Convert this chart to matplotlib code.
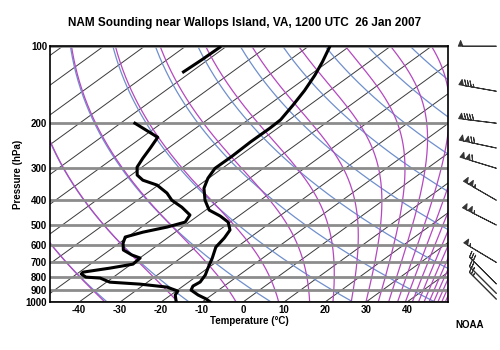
import numpy as np
import matplotlib
matplotlib.use('Agg')
import matplotlib.pyplot as plt
from matplotlib.ticker import FixedLocator, NullLocator

plt.rcParams['font.family'] = ['Liberation Sans', 'DejaVu Sans']

# skew of the isotherms (deg C per decade of pressure)
SKEW = 86.0

# temperature profile (hPa, deg C)
temp_p = [100, 115, 130, 149, 170, 194, 209, 237, 269, 300, 328, 359, 400, 437,
          461, 487, 523, 562, 610, 673, 736, 784, 835, 866, 898, 939, 973, 1000]
temp_t = [-64.8, -61.4, -58.7, -56.1, -54.0, -52.1, -51.9, -52.0, -51.7, -51.8,
          -50.2, -47.8, -43.5, -39.2, -34.5, -30.5, -27.4, -26.1, -25.1, -22.3,
          -20.0, -18.3, -17.2, -17.6, -16.7, -13.3, -10.0, -8.0]

# dewpoint profile, upper piece (above the gap)
dewp_top_p = [101, 113, 126]
dewp_top_t = [-91.3, -91.5, -91.9]

# dewpoint profile, 200 hPa down to the surface
dewp_p = [200, 227, 250, 274, 297, 319, 334, 349, 375, 400, 426, 457, 487, 509,
          533, 557, 588, 626, 655, 673, 711, 737, 764, 777, 799, 806, 836, 851,
          874, 906, 939, 1000]
dewp_t = [-86.5, -76.2, -74.4, -72.8, -71.2, -68.5, -65.4, -60.3, -55.2, -51.6,
          -46.8, -42.2, -41.0, -43.7, -47.9, -50.6, -49.1, -46.7, -42.9, -39.9,
          -39.6, -43.9, -49.1, -48.9, -46.7, -42.9, -39.2, -31.2, -23.6, -19.6,
          -18.9, -16.3]

# wind barbs: pressure, direction (deg), speed (kt)
wind_p = [100, 150, 200, 250, 300, 400, 500, 700, 850, 925, 975]
wind_dir = [270, 280, 277, 282, 287, 300, 297, 301, 315, 315, 315]
wind_spd = [50, 85, 90, 120, 110, 105, 105, 55, 30, 25, 25]

p_levels = [100, 200, 300, 400, 500, 600, 700, 800, 900, 1000]
t_ticks = [-40, -30, -20, -10, 0, 10, 20, 30, 40]

isotherms = np.arange(-160, 60, 10)
theta_list = np.arange(200, 661, 20)
theta_e_list = np.arange(200, 661, 20)

Rd, cp, Lv, eps = 287.04, 1005.7, 2.501e6, 0.622


def skew_x(t, p):
    return np.asarray(t) + SKEW * np.log10(1000.0 / np.asarray(p))


def sat_mr(T, p):
    es = 6.112 * np.exp(17.67 * (T - 273.15) / (T - 29.65))
    return eps * es / np.maximum(p - es, 1e-3)


def moist_rate(T, p):
    rs = sat_mr(T, p)
    return (Rd * T + Lv * rs) / (p * (cp + Lv ** 2 * rs * eps / (Rd * T ** 2)))


def theta_e_sfc(T):
    return T * np.exp(Lv * sat_mr(T, 1000.0) / (cp * T))


def moist_adiabat(the, pp):
    lo, hi = 120.0, 340.0
    for _ in range(60):
        mid = 0.5 * (lo + hi)
        if theta_e_sfc(mid) < the:
            lo = mid
        else:
            hi = mid
    T = np.empty_like(pp)
    T[0] = 0.5 * (lo + hi)
    for i in range(1, len(pp)):
        h = pp[i] - pp[i - 1]
        k1 = moist_rate(T[i - 1], pp[i - 1])
        k2 = moist_rate(T[i - 1] + 0.5 * h * k1, pp[i - 1] + 0.5 * h)
        k3 = moist_rate(T[i - 1] + 0.5 * h * k2, pp[i - 1] + 0.5 * h)
        k4 = moist_rate(T[i - 1] + h * k3, pp[i])
        T[i] = T[i - 1] + h * (k1 + 2 * k2 + 2 * k3 + k4) / 6.0
    return T - 273.15


fig = plt.figure(figsize=(5, 3.5), dpi=100)
ax = fig.add_axes([0.1, 0.137, 0.796, 0.731])

pp = np.logspace(3, 2, 300)

for t in isotherms:
    ax.plot(skew_x(np.full_like(pp, t), pp), pp, color='#3a3a3a', lw=0.7, zorder=1)

for th in theta_list:
    tt = th * (pp / 1000.0) ** 0.2857 - 273.15
    ax.plot(skew_x(tt, pp), pp, color='#6f8fcc', lw=0.9, zorder=2)

for the in theta_e_list:
    tt = moist_adiabat(float(the), pp)
    ax.plot(skew_x(tt, pp), pp, color='#b548c0', lw=0.9, zorder=3)

for p in p_levels:
    ax.axhline(p, color='#8c8c8c', lw=2.0, zorder=4)

ax.plot(skew_x(temp_t, temp_p), temp_p, color='black', lw=2.2, zorder=6)
ax.plot(skew_x(dewp_top_t, dewp_top_p), dewp_top_p, color='black', lw=2.2, zorder=6)
ax.plot(skew_x(dewp_t, dewp_p), dewp_p, color='black', lw=2.2, zorder=6)

ax.set_yscale('log')
ax.set_ylim(1000, 100)
ax.set_xlim(-47.1, 50.0)
ax.yaxis.set_major_locator(FixedLocator(p_levels))
ax.yaxis.set_minor_locator(NullLocator())
ax.set_yticklabels([str(p) for p in p_levels])
ax.set_xticks(t_ticks)
ax.set_xticklabels([str(t) for t in t_ticks])
ax.tick_params(length=0, labelsize=7, pad=2)
for lab in ax.get_xticklabels() + ax.get_yticklabels():
    lab.set_fontweight('bold')
for s in ax.spines.values():
    s.set_linewidth(1.2)
    s.set_zorder(10)

ax.set_xlabel('Temperature (\u00b0C)', fontsize=7, fontweight='bold', labelpad=1)
ax.set_ylabel('Pressure (hPa)', fontsize=7, fontweight='bold', labelpad=2)
fig.text(0.49, 0.935, 'NAM Sounding near Wallops Island, VA, 1200 UTC  26 Jan 2007',
         ha='center', va='center', fontsize=8.5, fontweight='bold')
fig.text(0.94, 0.07, 'NOAA', ha='center', va='center', fontsize=7, fontweight='bold')

# wind barbs to the right of the diagram
bax = fig.add_axes([0.896, 0.137, 0.104, 0.731])
bax.set_yscale('log')
bax.set_ylim(1000, 100)
bax.set_xlim(0, 1)
bax.axis('off')
d = np.radians(wind_dir)
spd = np.array(wind_spd, dtype=float)
u = -spd * np.sin(d)
v = -spd * np.cos(d)
bax.barbs(np.full(len(wind_p), 0.93), wind_p, u, v, length=7.4, lw=0.7,
          sizes=dict(spacing=0.07, height=0.15, width=0.12, emptybarb=0.0),
          color='#333333', clip_on=False)

fig.savefig('out.png', dpi=100)
